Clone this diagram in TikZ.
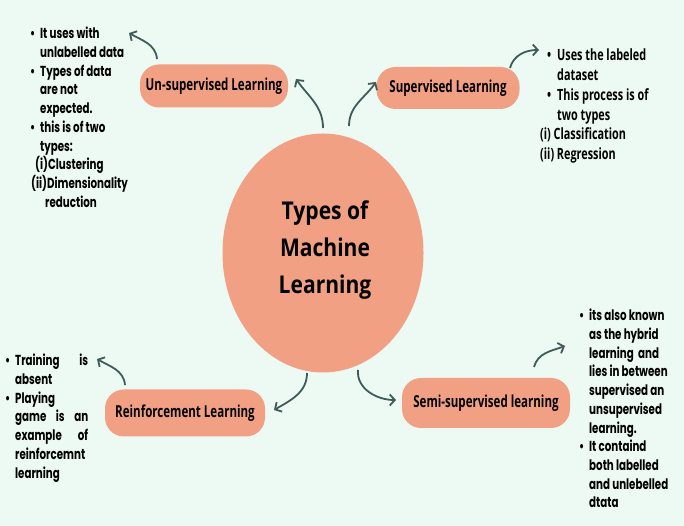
\documentclass[tikz,border=0pt]{standalone}
\usepackage{fontspec}
\usetikzlibrary{arrows.meta,shapes.geometric}
\setmainfont{Open Sans}
\newfontfamily\titlef[FakeStretch=0.86]{Open Sans}
\newfontfamily\labf[FakeStretch=0.70]{Open Sans}
\newfontfamily\popf[FakeStretch=0.71]{Poppins}
\definecolor{bgc}{RGB}{237,249,243}
\definecolor{salmon}{RGB}{242,160,132}
\definecolor{arrc}{RGB}{62,92,90}
\newcommand{\bul}{\makebox[10pt][l]{\textbullet}}
\begin{document}
\begin{tikzpicture}[x=1pt,y=1pt,
  pill/.style={fill=salmon, rounded corners=19pt, inner sep=0pt, text=black,
    font=\labf\bfseries\fontsize{16.5}{18}\selectfont},
  conn/.style={draw=arrc, line width=1.8pt,
    -{Straight Barb[length=5pt,width=11pt,line width=1.8pt]}},
  poptxt/.style={anchor=north west, inner sep=0pt, align=left,
    font=\popf\bfseries\fontsize{14.5}{18.7}\selectfont},
  optxt/.style={anchor=north west, inner sep=0pt, align=left,
    font=\labf\bfseries\fontsize{15.5}{19.7}\selectfont},
]
\fill[bgc] (0,0) rectangle (684,526);
\useasboundingbox (0,0) rectangle (684,526);

% central node
\node[ellipse, fill=salmon, minimum width=201pt, minimum height=239pt, inner sep=0pt] (main) at (323,273) {};
\node[align=center, inner sep=0pt, font=\titlef\bfseries\fontsize{24.5}{37}\selectfont] (title) at (325,276) {Types of\\Machine\\Learning};

% pills
\node[pill, minimum width=148pt, minimum height=43pt] (unsup) at (214,440) {Un-supervised Learning};
\node[pill, minimum width=143pt, minimum height=42pt] (sup) at (448,438) {Supervised Learning};
\node[pill, minimum width=160pt, minimum height=47pt] (reinf) at (185,113) {Reinforcement Learning};
\node[pill, minimum width=168pt, minimum height=50pt] (semi) at (486,123) {Semi-supervised learning};

% text blocks
\node[poptxt] (unsuptxt) at (30,499) {\bul It uses with\\
\hspace*{10pt}unlabelled data\\
\bul Types of data\\
\hspace*{10pt}are not\\
\hspace*{10pt}expected.\\
\bul this is of two\\
\hspace*{10pt}types:\\
\hspace*{5pt}(i)Clustering\\
\hspace*{1pt}(ii)Dimensionality\\
\hspace*{15pt}reduction};

\node[optxt] (suptxt) at (540,477) {\hspace*{7pt}\bul Uses the labeled\\
\hspace*{17pt}dataset\\
\hspace*{7pt}\bul This process is of\\
\hspace*{17pt}two types\\
(i) Classification\\
(ii) Regression};

\node[poptxt] (reinftxt) at (5,172) {\bul\makebox[73pt][s]{Training is}\\
\hspace*{10pt}absent\\
\bul Playing\\
\hspace*{10pt}\makebox[73pt][s]{game is an}\\
\hspace*{10pt}\makebox[73pt][s]{example of}\\
\hspace*{10pt}reinforcemnt\\
\hspace*{10pt}learning};

\node[poptxt] (semitxt) at (579,217) {\bul its also known\\
\hspace*{10pt}as the hybrid\\
\hspace*{10pt}learning\ \ and\\
\hspace*{10pt}lies in between\\
\hspace*{10pt}supervised an\\
\hspace*{10pt}unsupervised\\
\hspace*{10pt}learning.\\
\bul It containd\\
\hspace*{10pt}both labelled\\
\hspace*{10pt}and unlebelled\\
\hspace*{10pt}dtata};

% connector end points
\coordinate (m1) at (323,398);
\coordinate (t1) at (296,447);
\coordinate (m2) at (349,400);
\coordinate (t2) at (376,444);
\coordinate (m3) at (307,153);
\coordinate (t3) at (274,116);
\coordinate (m4) at (358,156);
\coordinate (t4) at (396,126);
\coordinate (u1) at (157,467);
\coordinate (ut) at (129,493);
\coordinate (s1) at (510,458);
\coordinate (st) at (539,476);
\coordinate (r1) at (125,141);
\coordinate (rt) at (97,167);
\coordinate (e1) at (534,159);
\coordinate (et) at (565,180);

\draw[conn] (m1) to[out=90,in=-55] (t1);
\draw[conn] (m2) to[out=90,in=-125] (t2);
\draw[conn] (m3) to[out=-90,in=30] (t3);
\draw[conn] (m4) to[out=-95,in=180] (t4);
\draw[conn] (u1) to[out=95,in=-30] (ut);
\draw[conn] (s1) to[out=75,in=180] (st);
\draw[conn] (r1) to[out=95,in=-30] (rt);
\draw[conn] (e1) to[out=75,in=200] (et);
\end{tikzpicture}
\end{document}
